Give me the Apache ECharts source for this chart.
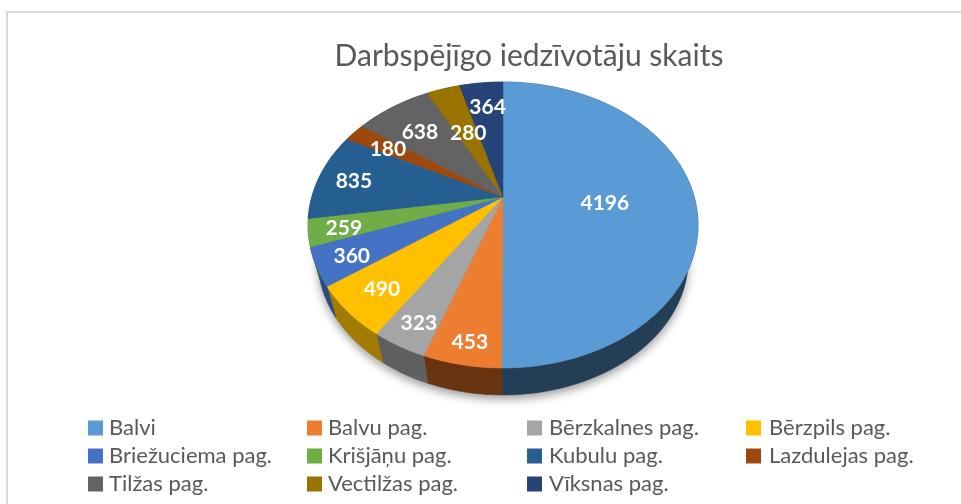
<!DOCTYPE html>
<html><head><meta charset="utf-8">
<style>html,body{margin:0;padding:0;background:#fff}#c{width:961px;height:504px}</style>
<script src="https://cdn.jsdelivr.net/npm/echarts@6/dist/echarts.min.js"></script>
</head><body><div id="c"></div>
<script>
const categories = ['Balvi','Balvu pag.','Bērzkalnes pag.','Bērzpils pag.','Briežuciema pag.','Krišjāņu pag.','Kubulu pag.','Lazdulejas pag.','Tilžas pag.','Vectilžas pag.','Vīksnas pag.'];
const values = [4196,453,323,490,360,259,835,180,638,280,364];
const colors = ['#5B9BD5','#ED7D31','#A5A5A5','#FFC000','#4472C4','#70AD47','#255E91','#9E480E','#636363','#997300','#264478'];
const sideColors = ['#243F55','#693412','#5F5F5F','#A37B00','#2B4A80','#46702C','#183C5D','#652E09','#3F3F3F','#614900','#18294A'];
const labelRadius = [.53,.886,.861,.814,.83,.826,.807,.746,.708,.549,.756];
const labelTurn = [4.6,-.7,-1,-.7,-.9,-.9,-.7,-1,-1.2,.3,.8];
const legendColumns = [[0,4,8],[1,5,9],[2,6,10],[3,7]];
const legendLeft = [88,307,527,746];
const legendTextGap = [1,1,2,3];

const total = values.reduce((a,b)=>a+b,0);
const view = {cx:503, cy:197, rx:191.2, ry:137.5, k:.196};
const floor = {cx:503, cy:232.5, rx:181.6, ry:130.6, k:.196};
function project(p, deg, r){
  const a = deg*Math.PI/180, u = Math.sin(a)*r, v = Math.cos(a)*r, w = 1/(1+p.k*v);
  return [p.cx+p.rx*u*w, p.cy-p.ry*v*w];
}
function arc(p, from, to){
  const pts=[], n=Math.max(2,Math.ceil(to-from));
  for(let i=0;i<=n;i++) pts.push(project(p, from+(to-from)*i/n, 1));
  return pts;
}
let running = 0;
const spans = values.map(v=>{const s=[running/total*360,(running+v)/total*360];running+=v;return s;});

const series = categories.map((name,i)=>({
  type:'custom', name, coordinateSystem:'none', silent:true, clip:false,
  itemStyle:{color:colors[i]},
  data:[[spans[i][0],spans[i][1],values[i]]],
  renderItem(params,api){
    const from=api.value(0), to=api.value(1);
    const rimTop=arc(view,from,to), rimBase=arc(floor,from,to).reverse();
    const mid=(from+to)/2+labelTurn[i], lp=project(view,mid,labelRadius[i]);
    const children=[
      {type:'polygon',z2:1,shape:{points:rimTop.concat(rimBase)},style:{fill:sideColors[i],stroke:sideColors[i],lineWidth:.5}},
      {type:'polygon',z2:10,shape:{points:[[view.cx,view.cy]].concat(rimTop)},style:{fill:colors[i],stroke:colors[i],lineWidth:.5}},
      {type:'text',z2:20,style:{text:String(api.value(2)),x:lp[0],y:lp[1],fill:'#fff',font:'bold 21px Lato',align:'center',verticalAlign:'middle'}}
    ];
    if(i===0) children.unshift({type:'polygon',z2:0,shape:{points:arc(floor,0,360)},style:{fill:'#888',shadowBlur:10,shadowColor:'rgba(0,0,0,.4)',shadowOffsetY:4}});
    return {type:'group',children};
  }
}));

const legends = legendColumns.map((col,i)=>({
  orient:'vertical', left:legendLeft[i], top:414, itemWidth:15, itemHeight:15, itemGap:0, padding:0, selectedMode:false,
  icon:'rect', data:col.map(j=>categories[j]),
  textStyle:{color:'#595959',fontFamily:'Lato',fontSize:22,lineHeight:22,padding:[6,0,0,legendTextGap[i]]}
}));

const chart = echarts.init(document.getElementById('c'),null,{renderer:'canvas'});
chart.setOption({
  animation:false, backgroundColor:'#fff',
  title:{text:'Darbspējīgo iedzīvotāju skaits',left:529,top:41,textAlign:'center',padding:0,
    textStyle:{color:'#595959',fontFamily:'Lato',fontWeight:'normal',fontSize:30}},
  legend:legends,
  graphic:[{type:'polyline',silent:true,shape:{points:[[7,504],[7,12],[961,12]]},style:{fill:null,stroke:'#D9D9D9',lineWidth:2}}],
  series
});
</script></body></html>
